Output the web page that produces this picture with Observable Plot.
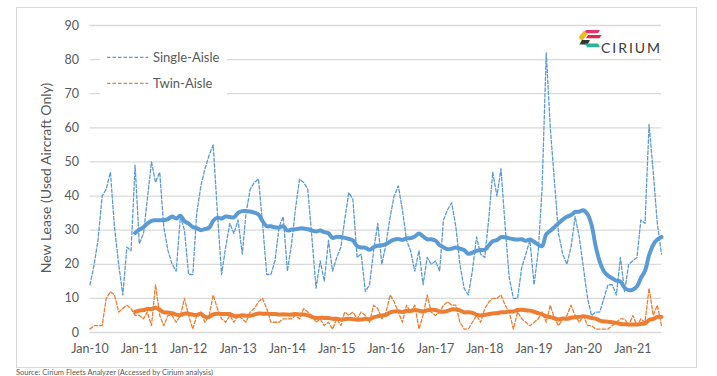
<!DOCTYPE html>
<html><head><meta charset="utf-8">
<script src="https://cdn.jsdelivr.net/npm/d3@7"></script>
<script src="https://cdn.jsdelivr.net/npm/@observablehq/plot@0.6"></script>
<style>
html,body{margin:0;padding:0;background:#fff;overflow:hidden}
#wrap{position:relative;width:717px;height:376px;font-family:Lato,"Open Sans",sans-serif;overflow:hidden}
#chart{position:absolute;left:0;top:0}
#over{position:absolute;left:0;top:0}
</style></head><body>
<div id="wrap"><div id="chart"></div><svg id="over" width="717" height="376"></svg></div>
<script>
const startMonth = "2010-01";
const seriesNames = ["Single-Aisle", "Twin-Aisle"];
const seriesColors = ["#5b9bd5", "#ed7d31"];
const singleAisle = [
  14,20,27,40,42,47,31,20,11,25,24,49,
  26,29,39,50,44,47,31,24,20,18,34,30,
  17,17,35,43,48,52,55,35,17,25,32,29,
  33,23,35,42,44,45,32,17,17,21,31,34,
  18,26,36,45,44,42,28,13,21,15,27,18,
  22,25,33,41,39,22,23,12,14,24,32,20,
  26,34,40,43,36,27,24,18,24,14,22,20,
  21,18,33,36,38,31,20,13,11,18,28,23,
  22,34,47,40,48,31,16,10,10,19,23,27,
  14,24,42,82,60,44,29,23,20,25,34,28,
  19,10,5,6,6,10,14,14,11,22,12,20,
  21,22,33,32,61,47,32,23
];
const twinAisle = [
  1,2,2,2,10,12,11,6,7,8,7,5,
  5,4,6,2,14,5,2,5,5,3,5,10,
  5,1,5,6,3,5,11,7,4,3,5,3,
  5,4,3,6,7,9,10,7,3,3,3,4,
  4,4,5,4,7,6,5,3,4,2,3,1,
  4,2,6,5,6,4,6,5,3,8,7,4,
  6,11,9,6,3,8,6,8,1,5,11,6,
  5,6,8,9,8,8,3,1,1,3,5,3,
  7,9,10,10,11,8,6,1,6,4,3,2,
  3,4,6,3,8,4,2,4,5,8,5,3,
  5,2,2,1,1,1,1,2,3,4,4,2,
  5,2,4,3,13,5,8,2
];
const yTicks = [0,10,20,30,40,50,60,70,80,90];
const tickLabels = ["Jan-10","Jan-11","Jan-12","Jan-13","Jan-14","Jan-15","Jan-16","Jan-17","Jan-18","Jan-19","Jan-20","Jan-21"];
const yLabel = "New Lease (Used Aircraft Only)";
const caption = "Source: Cirium Fleets Analyzer (Accessed by Cirium analysis)";

const t0 = d3.utcParse("%Y-%m")(startMonth);
const rows = singleAisle.map((v, i) => ({date: d3.utcMonth.offset(t0, i), single: v, twin: twinAisle[i]}));
const tickDates = tickLabels.map(d3.utcParse("%b-%y"));
const fmt = d => { const i = tickDates.findIndex(t => +t === +d); return i >= 0 ? tickLabels[i] : ""; };

const chart = Plot.plot({
  width: 717, height: 376,
  marginLeft: 89.5, marginRight: 56, marginTop: 25, marginBottom: 44,
  style: {fontFamily: "Lato, 'Open Sans', sans-serif", fontSize: "12.5px", color: "#595959", background: "transparent"},
  x: {type: "utc", domain: [rows[0].date, rows[rows.length - 1].date], ticks: tickDates, tickFormat: fmt, tickSize: 0, tickPadding: 12, label: null},
  y: {domain: [0, 90], ticks: yTicks, tickSize: 0, tickPadding: 11, label: null},
  marks: [
    Plot.ruleY(yTicks, {stroke: "#d9d9d9", strokeWidth: 1.3}),
    Plot.lineY(rows, {x: "date", y: "single", stroke: seriesColors[0], strokeWidth: 1.3, strokeDasharray: "3.5,2"}),
    Plot.lineY(rows, {x: "date", y: "twin", stroke: seriesColors[1], strokeWidth: 1.3, strokeDasharray: "3.5,2"}),
    Plot.lineY(rows, Plot.windowY({k: 12, anchor: "end", reduce: "mean", strict: true}, {x: "date", y: "single", stroke: seriesColors[0], strokeWidth: 4, curve: "catmull-rom"})),
    Plot.lineY(rows, Plot.windowY({k: 12, anchor: "end", reduce: "mean", strict: true}, {x: "date", y: "twin", stroke: seriesColors[1], strokeWidth: 4, curve: "catmull-rom"}))
  ]
});
document.getElementById("chart").appendChild(chart);

const over = d3.select("#over");
over.append("rect").attr("x", 16.5).attr("y", 7.5).attr("width", 680).attr("height", 360)
  .attr("fill", "none").attr("stroke", "#d9d9d9").attr("stroke-width", 1);
// legend
over.append("rect").attr("x", 100).attr("y", 45).attr("width", 127).attr("height", 52).attr("fill", "#fff");
const legY = [57.3, 83.3];
seriesNames.forEach((name, i) => {
  over.append("line").attr("x1", 107).attr("x2", 148).attr("y1", legY[i]).attr("y2", legY[i])
    .attr("stroke", seriesColors[i]).attr("stroke-width", 1.3).attr("stroke-dasharray", "3.5,2");
  over.append("text").attr("x", 153).attr("y", legY[i]).attr("dy", "0.35em")
    .attr("fill", "#595959").attr("font-size", 13).text(name);
});
// y label
over.append("text").attr("transform", "translate(51,178) rotate(-90)").attr("text-anchor", "middle")
  .attr("fill", "#595959").attr("font-size", 14).text(yLabel);
// logo
const logo = over.append("g");
logo.append("polygon").attr("points", "586,30 600,30 598,33.3 584,33.3").attr("fill", "#e8336e");
logo.append("polygon").attr("points", "588,35 601.5,35 599.5,38.3 586,38.3").attr("fill", "#e6264f");
logo.append("polygon").attr("points", "584,30.5 587.5,34 582,41 578.5,37.5").attr("fill", "#f6b91c");
logo.append("polygon").attr("points", "582,40 590,40 587.5,44.5 579.5,44.5").attr("fill", "#333");
logo.append("polygon").attr("points", "585,43.5 598,43.5 600,47.3 587,47.3").attr("fill", "#2ab39a");
over.append("text").attr("x", 601).attr("y", 52.5).attr("font-size", 14).attr("fill", "#3a3a3a")
  .attr("textLength", 59).attr("lengthAdjust", "spacing").text("CIRIUM");
// caption below the frame, kept fully inside the window
over.append("text").attr("x", 16).attr("y", 374.5).attr("font-size", 7.5).attr("fill", "#595959").text(caption);
</script>
</body></html>
